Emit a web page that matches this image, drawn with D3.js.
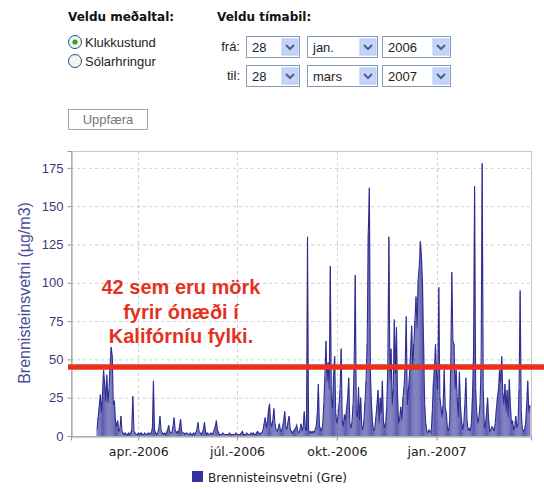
<!DOCTYPE html>
<html>
<head>
<meta charset="utf-8">
<script src="https://cdn.jsdelivr.net/npm/d3@7"></script>
<style>
  body { margin: 0; background: #fff; }
  svg { display: block; }
</style>
</head>
<body>
<div id="chart"></div>
<script>
// gögn lesin af myndinni: hæsta gildi hvers dags frá 22. feb. 2006
const seriesStart = "2006-02-22";
const dailyValues = [
  4,12,19,27,15,27,43,35,22,40,
  21,30,45,58,52,20,23,10,6,10,
  3,4,13,3,2,1,2,1,1,2,
  1,2,4,26,3,2,1,1,2,1,
  2,2,1,1,2,1,1,2,1,2,
  2,5,36,4,2,1,2,5,13,4,
  2,1,2,1,2,4,7,3,2,2,
  6,12,4,2,3,2,6,11,3,2,
  2,1,2,2,1,1,2,1,1,2,
  1,2,4,9,3,2,1,2,4,9,
  3,1,2,1,1,2,1,2,4,6,
  10,4,2,1,1,1,2,1,1,1,
  1,1,2,1,1,1,1,1,2,1,
  1,1,1,2,3,1,1,1,2,1,
  1,1,2,1,2,1,1,2,3,2,
  1,2,2,4,8,12,5,9,17,21,
  9,6,10,18,8,4,3,5,8,4,
  3,6,10,16,6,4,9,13,5,3,
  2,3,4,5,7,3,2,4,8,3,
  6,16,5,3,130,4,2,3,2,3,
  2,4,6,14,34,6,5,3,8,20,
  38,62,35,48,30,111,25,18,40,52,
  15,8,12,20,30,57,10,6,14,10,
  18,25,38,8,5,9,20,45,105,15,
  12,32,10,25,6,4,10,22,36,60,
  132,162,40,20,8,3,5,12,20,30,
  8,25,14,36,10,5,8,18,45,130,
  35,57,20,30,76,40,71,25,8,12,
  19,10,25,32,45,78,20,30,40,55,
  72,45,60,75,91,70,102,110,127,118,
  100,60,20,8,3,2,4,3,2,15,
  34,45,60,40,30,97,25,19,12,20,
  43,18,15,5,3,10,45,107,62,60,
  30,43,25,12,42,20,10,4,8,20,
  38,10,4,5,3,8,25,53,163,30,
  15,8,12,20,45,178,30,5,8,15,
  25,10,3,4,6,5,3,8,17,25,
  30,43,35,52,28,20,34,15,30,12,
  37,20,8,10,4,6,13,5,8,30,
  95,15,5,3,4,8,20,36,15,20
];
const yTicks = [0, 25, 50, 75, 100, 125, 150, 175];
const xTickDates = ["2006-04-01", "2006-07-01", "2006-10-01", "2007-01-01"];
const xTickLabels = ["apr.-2006", "júl.-2006", "okt.-2006", "jan.-2007"];
const markLevel = 45; // rauða línan
const noteLines = ["42 sem eru mörk", "fyrir ónæði í", "Kalifórníu fylki."];

// form efst
const radioLabels = ["Klukkustund", "Sólarhringur"];
const rowLabels = ["frá:", "til:"];
const fromValues = ["28", "jan.", "2006"];
const toValues = ["28", "mars", "2007"];

const parse = d3.timeParse("%Y-%m-%d");
const start = parse(seriesStart);
const data = dailyValues.map((v, i) => ({ date: d3.timeDay.offset(start, i), value: v }));

const W = 544, H = 489;
const svg = d3.select("#chart").append("svg")
    .attr("width", W)
    .attr("height", H)
    .style("font-family", "'Liberation Sans', Arial, sans-serif");

// --- form ---
svg.append("text").attr("x", 68).attr("y", 21)
    .style("font-family", "'DejaVu Sans', Verdana, sans-serif")
    .style("font-weight", "bold").style("font-size", "12px").attr("fill", "#111")
    .text("Veldu meðaltal:");
svg.append("text").attr("x", 217).attr("y", 21)
    .style("font-family", "'DejaVu Sans', Verdana, sans-serif")
    .style("font-weight", "bold").style("font-size", "12px").attr("fill", "#111")
    .text("Veldu tímabil:");

radioLabels.forEach((lab, i) => {
    const cy = 42 + i * 19;
    svg.append("circle").attr("cx", 75).attr("cy", cy).attr("r", 6.5)
        .attr("fill", "#f4f4f0").attr("stroke", "#1c5180");
    if (i === 0) {
        svg.append("circle").attr("cx", 75).attr("cy", cy).attr("r", 2.6).attr("fill", "#2aa12a");
    }
    svg.append("text").attr("x", 85).attr("y", cy + 4.5)
        .style("font-size", "13px").attr("fill", "#222").text(lab);
});

const boxes = [{ x: 246, w: 53 }, { x: 307, w: 70 }, { x: 382, w: 68 }];
[fromValues, toValues].forEach((vals, r) => {
    const top = 36 + r * 29;
    svg.append("text").attr("x", 240).attr("y", top + 15)
        .attr("text-anchor", "end").style("font-size", "13px").attr("fill", "#222")
        .text(rowLabels[r]);
    vals.forEach((v, i) => {
        const b = boxes[i];
        const g = svg.append("g").attr("transform", `translate(${b.x},${top})`);
        g.append("rect").attr("x", 0.5).attr("y", 0.5).attr("width", b.w).attr("height", 21)
            .attr("fill", "#fff").attr("stroke", "#7f9db9");
        g.append("text").attr("x", 6).attr("y", 15.5).style("font-size", "13px")
            .attr("fill", "#222").text(v);
        const bx = b.w - 17;
        g.append("rect").attr("x", bx).attr("y", 3).attr("width", 16).attr("height", 16)
            .attr("fill", "#c4d4fb").attr("stroke", "#b3c6f2");
        g.append("path")
            .attr("d", `M${bx + 4},${9} L${bx + 8},${13} L${bx + 12},${9}`)
            .attr("fill", "none").attr("stroke", "#4d6185").attr("stroke-width", 2);
    });
});

svg.append("rect").attr("x", 68.5).attr("y", 109.5).attr("width", 79).attr("height", 20)
    .attr("fill", "#fff").attr("stroke", "#a8a8a8");
svg.append("text").attr("x", 108).attr("y", 124).attr("text-anchor", "middle")
    .style("font-size", "13px").attr("fill", "#777").text("Uppfæra");

// --- graf ---
const x = d3.scaleTime()
    .domain([new Date(2006, 0, 29), new Date(2007, 2, 29)])
    .range([71, 531]);
const y = d3.scaleLinear().domain([0, 186]).range([436, 151]);

// hnitanet
svg.append("g").selectAll("line").data(yTicks.slice(1)).join("line")
    .attr("x1", 71).attr("x2", 531)
    .attr("y1", d => y(d) + 0.5).attr("y2", d => y(d) + 0.5)
    .attr("stroke", "#d0d0d0").attr("stroke-dasharray", "3,3");
svg.append("g").selectAll("line").data(xTickDates.map(parse)).join("line")
    .attr("x1", d => Math.round(x(d)) + 0.5).attr("x2", d => Math.round(x(d)) + 0.5)
    .attr("y1", 151).attr("y2", 436)
    .attr("stroke", "#d0d0d0").attr("stroke-dasharray", "3,3");

svg.append("rect").attr("x", 71.5).attr("y", 151.5).attr("width", 460).attr("height", 285)
    .attr("fill", "none").attr("stroke", "#c8c8c8");

// gögnin: lóðrétt strik fyrir hvern dag og lína milli toppa
svg.append("g").selectAll("line").data(data).join("line")
    .attr("x1", d => x(d.date)).attr("x2", d => x(d.date))
    .attr("y1", y(0)).attr("y2", d => y(d.value))
    .attr("stroke", "#30309a").attr("stroke-width", 0.8);
const line = d3.line().x(d => x(d.date)).y(d => y(d.value));
svg.append("path").datum(data).attr("d", line)
    .attr("fill", "none").attr("stroke", "#2e2e92").attr("stroke-width", 1.1);

// ásar
const yAxis = svg.append("g").attr("transform", "translate(71.5,0)")
    .call(d3.axisLeft(y).tickValues(yTicks).tickSize(4).tickPadding(4));
yAxis.selectAll("text").style("font-size", "13px")
    .style("font-family", "'Liberation Sans', Arial, sans-serif").attr("fill", "#3a3a78");
yAxis.selectAll("line").attr("stroke", "#999");
yAxis.select(".domain").attr("stroke", "#999");

const xAxis = svg.append("g").attr("transform", "translate(0,436.5)")
    .call(d3.axisBottom(x).tickValues(xTickDates.map(parse))
        .tickFormat((d, i) => xTickLabels[i]).tickSize(4).tickPadding(7));
xAxis.selectAll("text").style("font-size", "12.5px")
    .style("font-family", "'DejaVu Sans', Verdana, sans-serif").attr("fill", "#222");
xAxis.selectAll("line").attr("stroke", "#999");
xAxis.select(".domain").attr("stroke", "#999");

svg.append("text")
    .attr("transform", "rotate(-90)")
    .attr("x", -293).attr("y", 30)
    .attr("text-anchor", "middle")
    .style("font-size", "16px").attr("fill", "#4b4b9a")
    .text("Brennisteinsvetni (µg/m3)");

// rauða línan og athugasemd
svg.append("line").attr("x1", 68).attr("x2", W)
    .attr("y1", y(markLevel)).attr("y2", y(markLevel))
    .attr("stroke", "#e8301c").attr("stroke-width", 5.5);

svg.append("g").selectAll("text").data(noteLines).join("text")
    .attr("x", 181).attr("y", (d, i) => 294 + i * 24.5)
    .attr("text-anchor", "middle")
    .style("font-size", "20px").style("font-weight", "bold")
    .attr("fill", "#e5321f")
    .text(d => d);

// skýring
svg.append("rect").attr("x", 192).attr("y", 471).attr("width", 11).attr("height", 11)
    .attr("fill", "#33339a");
svg.append("text").attr("x", 208).attr("y", 481.5)
    .style("font-family", "'DejaVu Sans', Verdana, sans-serif")
    .style("font-size", "12px").attr("fill", "#222")
    .text("Brennisteinsvetni (Gre)");
</script>
</body>
</html>
